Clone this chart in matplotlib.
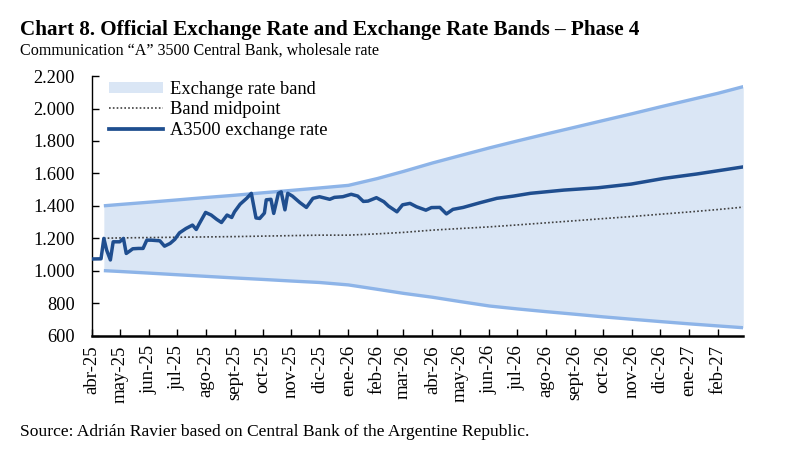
import matplotlib
matplotlib.use("Agg")
import matplotlib.pyplot as plt
import numpy as np
from matplotlib.patches import Patch
from matplotlib.lines import Line2D

plt.rcParams['font.family'] = ['Liberation Serif', 'DejaVu Serif']

# ---------------- data ----------------
band_dates = ["2025-04-14", "2025-05-01", "2025-06-01", "2025-07-01", "2025-08-01",
              "2025-09-01", "2025-10-01", "2025-11-01", "2025-12-01", "2026-01-01",
              "2026-02-01", "2026-03-01", "2026-04-01", "2026-05-01", "2026-06-01",
              "2026-07-01", "2026-08-01", "2026-09-01", "2026-10-01", "2026-11-01",
              "2026-12-01", "2027-01-01", "2027-02-01", "2027-02-28"]
band_upper = [1400, 1408, 1422, 1436, 1451, 1465, 1480, 1495, 1510, 1526,
              1568, 1612, 1664, 1710, 1757, 1800, 1843, 1885, 1926, 1968,
              2010, 2052, 2094, 2135]
band_lower = [1000, 995, 985, 975, 965, 955, 946, 936, 927, 912,
              885, 860, 836, 809, 782, 764, 747, 731, 715, 700,
              686, 672, 659, 648]
band_mid = [1200, 1202, 1204, 1206, 1208, 1210, 1213, 1216, 1219, 1219,
            1227, 1236, 1250, 1260, 1270, 1282, 1295, 1308, 1321, 1334,
            1348, 1362, 1377, 1392]

fx_dates = ["2025-04-01", "2025-04-11", "2025-04-14", "2025-04-17", "2025-04-21",
            "2025-04-24", "2025-05-01", "2025-05-05", "2025-05-08", "2025-05-12",
            "2025-05-15", "2025-05-21", "2025-05-26", "2025-05-30", "2025-06-04",
            "2025-06-13", "2025-06-18", "2025-06-24", "2025-06-29", "2025-07-04",
            "2025-07-11", "2025-07-18", "2025-07-22", "2025-07-25", "2025-08-01",
            "2025-08-07", "2025-08-13", "2025-08-18", "2025-08-24", "2025-08-29",
            "2025-09-01", "2025-09-07", "2025-09-14", "2025-09-19", "2025-09-24",
            "2025-09-28", "2025-10-03", "2025-10-05", "2025-10-10", "2025-10-13",
            "2025-10-18", "2025-10-21", "2025-10-25", "2025-10-28", "2025-11-02",
            "2025-11-10", "2025-11-17", "2025-11-24", "2025-12-01", "2025-12-12",
            "2025-12-17", "2025-12-26", "2026-01-04", "2026-01-11", "2026-01-17",
            "2026-01-22", "2026-01-31", "2026-02-08", "2026-02-13", "2026-02-22",
            "2026-02-28", "2026-03-08", "2026-03-15", "2026-03-25", "2026-03-31",
            "2026-04-09", "2026-04-16", "2026-04-23", "2026-05-04", "2026-05-22",
            "2026-06-09", "2026-06-27", "2026-07-15", "2026-08-20", "2026-09-25",
            "2026-10-31", "2026-12-05", "2027-01-09", "2027-02-28"]
fx_values = [1072, 1073, 1199, 1127, 1066,
             1178, 1178, 1199, 1106, 1122,
             1135, 1137, 1137, 1188, 1188,
             1184, 1151, 1168, 1193, 1233,
             1260, 1281, 1254, 1287, 1359,
             1343, 1316, 1297, 1343, 1328,
             1363, 1410, 1446, 1477, 1325,
             1322, 1355, 1437, 1440, 1353,
             1477, 1486, 1375, 1477, 1460,
             1420, 1390, 1446, 1456, 1440,
             1452, 1456, 1471, 1460, 1427,
             1429, 1450, 1425, 1398, 1363,
             1406, 1415, 1394, 1373, 1389,
             1390, 1350, 1378, 1390, 1419,
             1446, 1460, 1477, 1497, 1511,
             1534, 1569, 1596, 1640]

month_ticks = ["2025-04-01", "2025-05-01", "2025-06-01", "2025-07-01", "2025-08-01",
               "2025-09-01", "2025-10-01", "2025-11-01", "2025-12-01", "2026-01-01",
               "2026-02-01", "2026-03-01", "2026-04-01", "2026-05-01", "2026-06-01",
               "2026-07-01", "2026-08-01", "2026-09-01", "2026-10-01", "2026-11-01",
               "2026-12-01", "2027-01-01", "2027-02-01"]
month_labels = ["abr-25", "may-25", "jun-25", "jul-25", "ago-25", "sept-25", "oct-25",
                "nov-25", "dic-25", "ene-26", "feb-26", "mar-26", "abr-26", "may-26",
                "jun-26", "jul-26", "ago-26", "sept-26", "oct-26", "nov-26", "dic-26",
                "ene-27", "feb-27"]
y_ticks = [600, 800, 1000, 1200, 1400, 1600, 1800, 2000, 2200]

# ---------------- colours ----------------
FILL = '#dae6f5'
EDGE = '#8db4e8'
FX = '#1f4e8f'
MID = '#404040'

bd = np.array(band_dates, dtype='datetime64[D]')
fd = np.array(fx_dates, dtype='datetime64[D]')
mt = np.array(month_ticks, dtype='datetime64[D]')

fig = plt.figure(figsize=(8.03, 4.62), dpi=100)
ax = fig.add_axes([0.1142, 0.2738, 0.8114, 0.5615])

ax.fill_between(bd, band_lower, band_upper, color=FILL, lw=0, zorder=1)
ax.plot(bd, band_upper, color=EDGE, lw=2.4, zorder=2, solid_capstyle='butt')
ax.plot(bd, band_lower, color=EDGE, lw=2.4, zorder=2, solid_capstyle='butt')
ax.plot(bd, band_mid, color=MID, lw=1.2, ls=(0, (1, 1.3)), zorder=3)
ax.plot(fd, fx_values, color=FX, lw=2.5, zorder=4, solid_joinstyle='round')

ax.set_xlim(np.datetime64('2025-04-01'), np.datetime64('2027-02-28'))
ax.set_ylim(600, 2200)
ax.set_yticks(y_ticks)
ax.set_yticklabels([f"{v:,}".replace(",", ".") for v in y_ticks], fontsize=13.2)
ax.set_xticks(mt)
ax.set_xticklabels(month_labels, rotation=90, fontsize=13.5)

for s in ['top', 'right']:
    ax.spines[s].set_visible(False)
ax.spines['left'].set_linewidth(1.0)
ax.spines['bottom'].set_linewidth(1.8)
ax.tick_params(axis='y', direction='in', length=5, width=1, pad=12)
ax.tick_params(axis='x', direction='in', length=5, width=1, pad=7)

handles = [Patch(facecolor=FILL, edgecolor='none'),
           Line2D([0], [0], color=MID, lw=1.2, ls=(0, (1, 1.3))),
           Line2D([0], [0], color=FX, lw=2.7)]
labels = ["Exchange rate band", "Band midpoint", "A3500 exchange rate"]
leg = ax.legend(handles, labels, loc='upper left', bbox_to_anchor=(0.01, 1.025),
                frameon=False, fontsize=13.3, handlelength=2.9, handleheight=0.55,
                handletextpad=0.4, labelspacing=0.2, borderaxespad=0.2)

fig.text(0.025, 0.935, "Chart 8. Official Exchange Rate and Exchange Rate Bands – Phase 4",
         fontsize=15.2, fontweight='bold', ha='left', va='center')
fig.text(0.025, 0.891, "Communication “A” 3500 Central Bank, wholesale rate",
         fontsize=11.6, ha='left', va='center')
fig.text(0.025, 0.065, "Source: Adrián Ravier based on Central Bank of the Argentine Republic.",
         fontsize=12.6, ha='left', va='center')

fig.savefig("out.png", dpi=100)
